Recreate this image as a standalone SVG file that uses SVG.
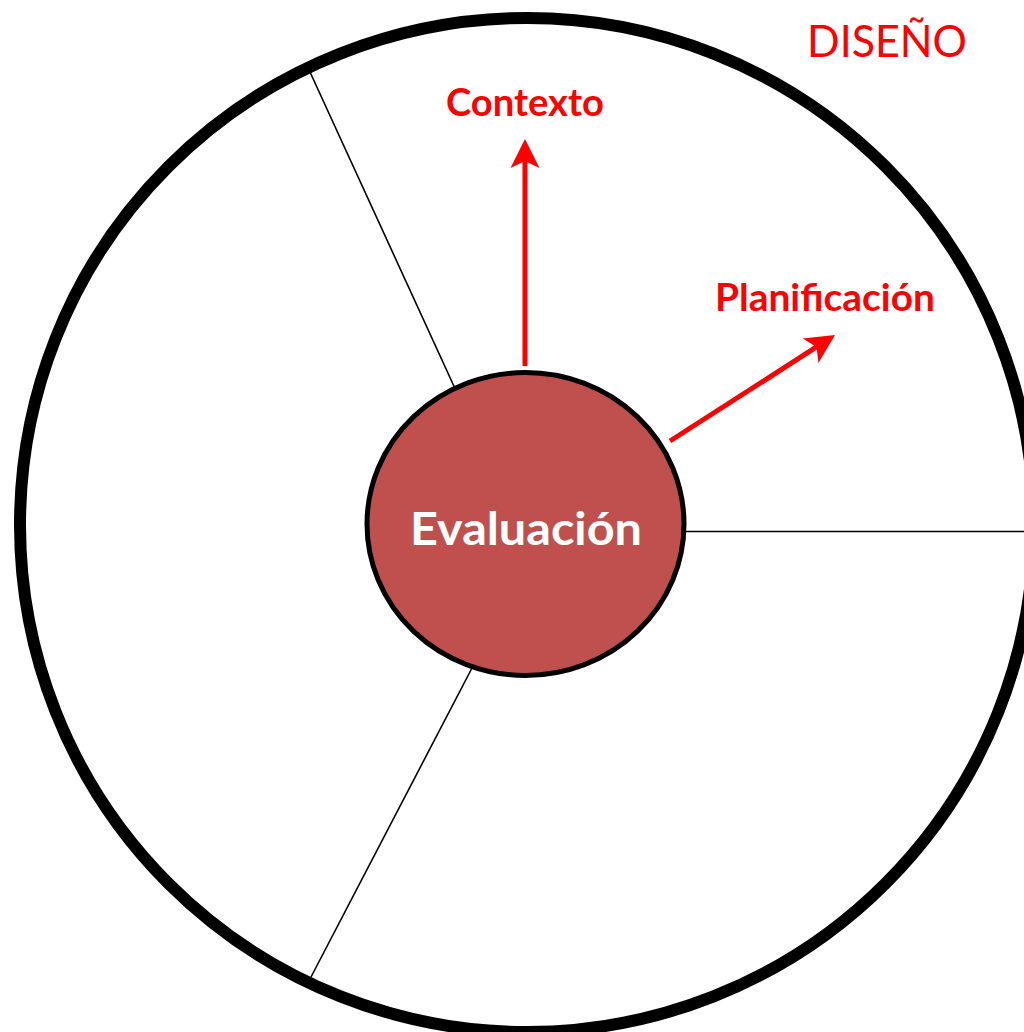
<svg xmlns="http://www.w3.org/2000/svg" width="1024" height="1032" viewBox="0 0 1024 1032">
  <style>
    .divider { stroke: #000; stroke-width: 1.6; fill: none; }
    .arrow { stroke: #FF0000; stroke-width: 5; fill: none; marker-end: url(#head); }
    .lbl { font-family: Lato, "Open Sans", "Liberation Sans", sans-serif; font-weight: bold; fill: #FF0000; }
  </style>
  <defs>
    <marker id="head" markerUnits="userSpaceOnUse" viewBox="-30 -16 32 32" markerWidth="32" markerHeight="32" refX="-22" refY="0" orient="auto">
      <path d="M0,0 L-29,-14.5 L-22,0 L-29,14.5 Z" fill="#FF0000"/>
    </marker>
  </defs>
  <rect width="1024" height="1032" fill="#FFFFFF"/>
  <g id="outer-ring">
    <circle cx="527" cy="525" r="507" fill="#FFFFFF" stroke="#000" stroke-width="12"/>
  </g>
  <g id="connectors">
    <line class="divider" x1="310" y1="72" x2="458" y2="395"/>
    <line class="divider" x1="686" y1="531.5" x2="1024" y2="531.5"/>
    <line class="divider" x1="472" y1="668" x2="311" y2="977"/>
    <line class="arrow" x1="525" y1="366" x2="525" y2="161"/>
    <line class="arrow" x1="670" y1="441" x2="816.5" y2="346.9"/>
  </g>
  <g id="evaluacion">
    <ellipse cx="525.5" cy="524" rx="158.5" ry="151.5" fill="#C0504D" stroke="#000" stroke-width="5"/>
    <text x="526" y="545" text-anchor="middle" font-family="Lato, 'Open Sans', 'Liberation Sans', sans-serif" font-weight="bold" font-size="46" fill="#FFFFFF" textLength="232" lengthAdjust="spacingAndGlyphs">Evaluación</text>
  </g>
  <g id="contexto">
    <text class="lbl" x="525" y="116" text-anchor="middle" font-size="39" textLength="158" lengthAdjust="spacingAndGlyphs">Contexto</text>
  </g>
  <g id="planificacion">
    <text class="lbl" x="825" y="311" text-anchor="middle" font-size="38" textLength="220" lengthAdjust="spacingAndGlyphs">Planificación</text>
  </g>
  <g id="diseno">
    <text x="887" y="57" text-anchor="middle" font-family="Lato, 'Open Sans', 'Liberation Sans', sans-serif" font-size="44" fill="#FF0000" textLength="160" lengthAdjust="spacingAndGlyphs">DISEÑO</text>
  </g>
</svg>
